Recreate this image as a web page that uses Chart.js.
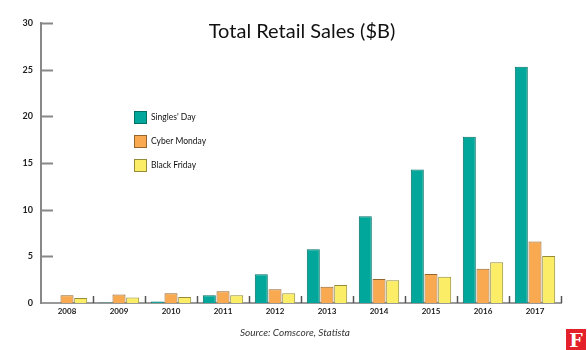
<!DOCTYPE html>
<html>
<head>
<meta charset="utf-8">
<script src="https://cdn.jsdelivr.net/npm/chart.js@4"></script>
<style>
  body { margin: 0; background: #fff; }
  #wrap { position: relative; width: 587px; height: 350px; }
  #logo {
    position: absolute; left: 566px; top: 329px; width: 20px; height: 21px;
    background: #e4202a; color: #fff; font: bold 19px "DejaVu Serif", serif;
    text-align: center; line-height: 22px;
  }
</style>
</head>
<body>
<div id="wrap">
  <canvas id="meuGrafico" width="587" height="350"></canvas>
  <div id="logo">F</div>
</div>
<script>
  // anos e vendas (bilhões de dólares)
  var anos = ['2008', '2009', '2010', '2011', '2012', '2013', '2014', '2015', '2016', '2017'];
  var singlesDay = [0, 0.05, 0.17, 0.83, 3.07, 5.75, 9.3, 14.3, 17.8, 25.3];
  var cyberMonday = [0.84, 0.9, 1.04, 1.25, 1.47, 1.73, 2.57, 3.12, 3.68, 6.59];
  var blackFriday = [0.54, 0.6, 0.65, 0.83, 1.05, 1.93, 2.43, 2.8, 4.36, 5.03];
  var ticksY = [0, 5, 10, 15, 20, 25, 30];

  var fonte = 'Lato, "Open Sans", sans-serif';

  // titulo, legenda, fonte e tracinhos dos eixos
  var extras = {
    id: 'extras',
    afterDraw: function (chart) {
      var ctx = chart.ctx;
      var area = chart.chartArea;
      var x = chart.scales.x;
      var y = chart.scales.y;
      ctx.save();

      ctx.fillStyle = '#111';
      ctx.font = '20px ' + fonte;
      ctx.textAlign = 'center';
      ctx.textBaseline = 'middle';
      ctx.fillText('Total Retail Sales ($B)', (area.left + area.right) / 2 + 1, 32);

      ctx.fillStyle = '#333';
      ctx.font = 'italic 10px ' + fonte;
      ctx.fillText('Source: Comscore, Statista', 295, 333);

      // tracinhos do eixo y, para dentro
      ctx.strokeStyle = '#888';
      ctx.lineWidth = 2;
      ticksY.forEach(function (v) {
        if (v === 0) return;
        var py = Math.round(y.getPixelForValue(v)) + 0.5;
        ctx.beginPath();
        ctx.moveTo(area.left, py);
        ctx.lineTo(area.left + 12, py);
        ctx.stroke();
      });

      // separadores das categorias no eixo x
      ctx.strokeStyle = '#555';
      ctx.lineWidth = 1.5;
      var meia = (x.getPixelForValue(1) - x.getPixelForValue(0)) / 2;
      for (var i = 0; i < anos.length; i++) {
        var px = Math.round(x.getPixelForValue(i) + meia) + 0.5;
        ctx.beginPath();
        ctx.moveTo(px, area.bottom);
        ctx.lineTo(px, area.bottom - 7);
        ctx.stroke();
      }

      // legenda
      ctx.textAlign = 'left';
      ctx.font = '8.5px ' + fonte;
      chart.data.datasets.forEach(function (ds, k) {
        var ly = 111 + k * 24;
        ctx.fillStyle = ds.backgroundColor;
        ctx.strokeStyle = ds.borderColor;
        ctx.lineWidth = 1;
        ctx.fillRect(134, ly, 13, 13);
        ctx.strokeRect(134.5, ly + 0.5, 12, 12);
        ctx.fillStyle = '#111';
        ctx.fillText(ds.label, 151, ly + 6);
      });

      ctx.restore();
    }
  };

  var ctx = document.getElementById('meuGrafico').getContext('2d');

  var meuGrafico = new Chart(ctx, {
    type: 'bar',
    data: {
      labels: anos,
      datasets: [{
        label: "Singles' Day",
        data: singlesDay,
        backgroundColor: 'rgb(0, 167, 154)',
        borderColor: 'rgb(0, 112, 102)',
        borderWidth: 1
      }, {
        label: 'Cyber Monday',
        data: cyberMonday,
        backgroundColor: 'rgb(249, 170, 80)',
        borderColor: 'rgb(150, 100, 45)',
        borderWidth: 1
      }, {
        label: 'Black Friday',
        data: blackFriday,
        backgroundColor: 'rgb(251, 238, 102)',
        borderColor: 'rgb(150, 140, 55)',
        borderWidth: 1
      }]
    },
    options: {
      responsive: false,
      animation: false,
      layout: { padding: { left: 0, right: 26, top: 23, bottom: 27 } },
      datasets: { bar: { categoryPercentage: 0.79, barPercentage: 0.95 } },
      plugins: {
        legend: { display: false },
        title: { display: false },
        tooltip: { enabled: false }
      },
      scales: {
        x: {
          grid: { display: false, drawTicks: false },
          border: { display: true, color: '#999', width: 2 },
          ticks: { color: '#222', padding: 4, font: { family: fonte, size: 8, weight: 'bold' } },
          afterFit: function (s) { s.height = 20; }
        },
        y: {
          min: 0,
          max: 30,
          grid: { display: false, drawTicks: false },
          border: { display: true, color: '#888', width: 2 },
          ticks: { stepSize: 5, color: '#222', padding: 8, font: { family: fonte, size: 9, weight: 'bold' } },
          afterFit: function (s) { s.width = 41; }
        }
      }
    },
    plugins: [extras]
  });
</script>
</body>
</html>
